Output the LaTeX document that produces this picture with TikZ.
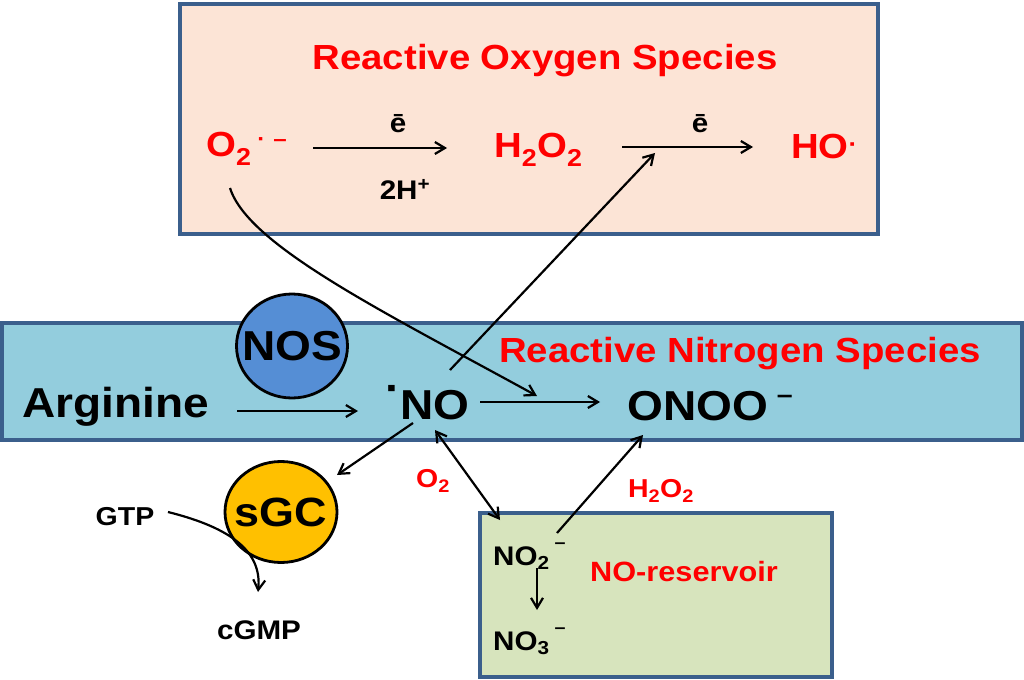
\documentclass[tikz,border=0pt]{standalone}
\usepackage{fontspec}
\setmainfont{Liberation Sans}[FakeStretch=1.1]
\usetikzlibrary{arrows.meta,shapes.geometric}
\definecolor{bord}{HTML}{3B5F8C}
\definecolor{rosfill}{HTML}{FCE4D6}
\definecolor{rnsfill}{HTML}{93CDDD}
\definecolor{resfill}{HTML}{D7E4BD}
\definecolor{nosfill}{HTML}{558ED5}
\definecolor{sgcfill}{HTML}{FFC000}
\definecolor{myred}{HTML}{FF0000}
\newcommand\fsz[1]{\fontsize{#1}{#1}\selectfont}
\tikzset{
  boxst/.style={draw=bord, line width=3.8bp},
  big/.style={font=\bfseries\fsz{42}},
  spec/.style={font=\bfseries\fsz{35}, text=myred},
  ttl/.style={font=\bfseries\fsz{35}, text=myred},
  sm/.style={font=\bfseries\fsz{27}},
  enz/.style={draw=black, line width=2.8bp, ellipse},
  enztext/.style={font=\bfseries\fsz{42}},
  arr/.style={-{Straight Barb[length=10bp,width=12bp]}, line width=2.2bp},
  darr/.style={{Straight Barb[length=10bp,width=12bp]}-{Straight Barb[length=10bp,width=12bp]}, line width=2.2bp}
}
\begin{document}
\begin{tikzpicture}[x=1bp,y=-1bp, every node/.style={inner sep=0pt}]
\useasboundingbox (0,0) rectangle (1024,680);
% boxes
\draw[boxst, fill=rosfill] (180,4) rectangle (878,234);
\draw[boxst, fill=rnsfill] (2,323) rectangle (1022,440);
\draw[boxst, fill=resfill] (480,513) rectangle (832,677);
% ROS
\node[ttl] (rostitle) at (545,61) {Reactive Oxygen Species};
\node[spec, anchor=base west] (o2) at (206,157) {O\textsubscript{2}\hspace{6bp}\raisebox{10bp}{\fsz{22}·\hspace{8bp}–}};
\node[spec, anchor=base west] (h2o2) at (494,158) {H\textsubscript{2}O\textsubscript{2}};
\node[spec, anchor=base west] (ho) at (791,159) {HO\raisebox{6bp}{\fsz{24}·}};
\node[sm] (e1) at (398,124) {ē};
\node[sm] (hplus) at (405,189) {2H\textsuperscript{+}};
\node[sm] (e2) at (700,124) {ē};
\draw[arr] ([shift={(107,-9)}]o2.base west) -- ([shift={(-47,-10)}]h2o2.base west);
\draw[arr] ([shift={(128,-11)}]h2o2.base west) -- ([shift={(-38,-12)}]ho.base west);
% RNS
\node[ttl] (rnstitle) at (740,354) {Reactive Nitrogen Species};
\node[big, anchor=base west] (arg) at (22,417) {Arginine};
\node[big, anchor=base west] (no) at (385,419) {\raisebox{0.4em}{·}NO};
\node[big, anchor=base west] (onoo) at (627,420) {ONOO\hspace{9bp}\raisebox{17bp}{\fsz{26}–}};
\node[enz, fill=nosfill, minimum width=111bp, minimum height=104bp] (nos) at (292,346) {};
\node[enztext] (nostext) at (nos.center) {NOS};
\draw[arr] ([shift={(215,-6)}]arg.base west) -- ([shift={(-27,-8)}]no.base west);
\draw[arr] ([shift={(95,-17)}]no.base west) -- ([shift={(-27,-18)}]onoo.base west);
% cross links
\draw[arr] ([shift={(24,31)}]o2.base west) .. controls (248,245) and (380,310) .. ([shift={(-90,-24)}]onoo.base west);
\draw[arr] ([shift={(65,-49)}]no.base west) -- ([shift={(161,-5)}]h2o2.base west);
% sGC
\node[enz, fill=sgcfill, minimum width=112bp, minimum height=101bp] (sgc) at (281,512) {};
\node[enztext, font=\bfseries\fsz{41}] (sgctext) at (sgc.center) {sGC};
\node[font=\bfseries\fsz{26}] (gtp) at (125,517) {GTP};
\node[sm] (cgmp) at (259,630) {cGMP};
\draw[arr] ([shift={(28,4)}]no.base west) -- ([shift={(56,-37)}]sgc.center);
\draw[arr] ([shift={(43,-5)}]gtp.center) .. controls (232,528) and (262,552) .. ([shift={(-1,-38)}]cgmp.center);
% reservoir
\node[font=\bfseries\fsz{26}, text=myred] (o2lbl) at (433,481) {O\textsubscript{2}};
\node[font=\bfseries\fsz{26}, text=myred] (h2o2lbl) at (661,491) {H\textsubscript{2}O\textsubscript{2}};
\node[sm, anchor=base west] (no2) at (493,565) {NO\textsubscript{2}\hspace{5bp}\raisebox{17bp}{\fsz{18}–}};
\node[sm, anchor=base west] (no3) at (493,650) {NO\textsubscript{3}\hspace{5bp}\raisebox{17bp}{\fsz{18}–}};
\node[font=\bfseries\fsz{28}, text=myred] (resv) at (684,572) {NO-reservoir};
\draw[darr] ([shift={(50,11)}]no.base west) -- ([shift={(7,-45)}]no2.base west);
\draw[arr] ([shift={(64,-32)}]no2.base west) -- ([shift={(16,15)}]onoo.base west);
\draw[arr] ([shift={(44,3)}]no2.base west) -- ([shift={(44,-40)}]no3.base west);
\end{tikzpicture}
\end{document}
